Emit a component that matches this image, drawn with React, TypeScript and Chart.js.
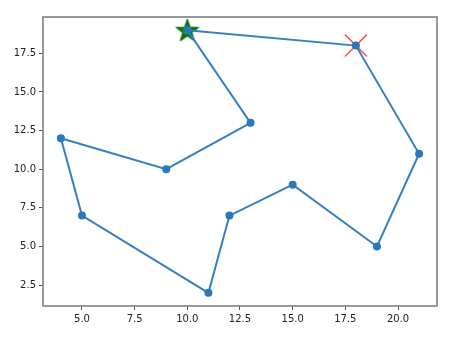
import React, { useEffect, useRef } from "react";
import { Chart, registerables } from "chart.js";

Chart.register(...registerables);

const tourX = [10, 13, 9, 4, 5, 11, 12, 15, 19, 21, 18, 10];
const tourY = [19, 13, 10, 12, 7, 2, 7, 9, 5, 11, 18, 19];
const startPoint = { x: 10, y: 19 };
const endPoint = { x: 18, y: 18 };
const xTicks = [5.0, 7.5, 10.0, 12.5, 15.0, 17.5, 20.0];
const yTicks = [2.5, 5.0, 7.5, 10.0, 12.5, 15.0, 17.5];
const xRange = [3.15, 21.85];
const yRange = [1.15, 19.85];

function makeStar(): HTMLCanvasElement {
  const c = document.createElement("canvas");
  const s = 26;
  c.width = s;
  c.height = s;
  const ctx = c.getContext("2d")!;
  const cx = s / 2, cy = s / 2 + 1;
  const R = 12, r = 4.8;
  ctx.beginPath();
  for (let i = 0; i < 10; i++) {
    const rad = i % 2 === 0 ? R : r;
    const a = -Math.PI / 2 + (i * Math.PI) / 5;
    const px = cx + rad * Math.cos(a);
    const py = cy + rad * Math.sin(a);
    if (i === 0) ctx.moveTo(px, py);
    else ctx.lineTo(px, py);
  }
  ctx.closePath();
  ctx.fillStyle = "#008000";
  ctx.fill();
  ctx.strokeStyle = "#006000";
  ctx.lineWidth = 1;
  ctx.stroke();
  return c;
}

const frame = {
  id: "frame",
  afterDraw(chart: any) {
    const { ctx, chartArea } = chart;
    ctx.save();
    ctx.strokeStyle = "#808080";
    ctx.lineWidth = 1.6;
    ctx.strokeRect(chartArea.left, chartArea.top, chartArea.right - chartArea.left, chartArea.bottom - chartArea.top);
    ctx.restore();
  },
};

export default function App() {
  const ref = useRef<HTMLCanvasElement>(null);
  useEffect(() => {
    const tour = tourX.map((x, i) => ({ x, y: tourY[i] }));
    const chart = new Chart(ref.current!, {
      type: "scatter",
      data: {
        datasets: [
          {
            data: tour,
            showLine: true,
            borderColor: "#3580c4",
            backgroundColor: "#2a78b8",
            borderWidth: 2,
            pointRadius: 4,
            pointBorderWidth: 0,
            order: 0,
          },
          {
            data: [startPoint],
            pointStyle: makeStar() as any,
            pointRadius: 12,
            order: 1,
          },
          {
            data: [endPoint],
            pointStyle: "crossRot",
            pointRadius: 15.5,
            borderColor: "#ff5050",
            borderWidth: 1.5,
            order: 1,
          },
        ],
      },
      options: {
        animation: false,
        responsive: false,
        layout: { padding: { top: 14, right: 22, left: 0, bottom: 0 } },
        plugins: { legend: { display: false }, tooltip: { enabled: false } },
        scales: {
          x: {
            type: "linear",
            min: xRange[0],
            max: xRange[1],
            afterBuildTicks: (s: any) => {
              s.ticks = xTicks.map((v) => ({ value: v }));
            },
            afterFit: (s: any) => {
              s.height = 39;
            },
            ticks: {
              callback: (v: any) => Number(v).toFixed(1),
              color: "#222",
              font: { family: "DejaVu Sans", size: 10 },
              padding: 3,
              maxRotation: 0,
            },
            grid: { drawOnChartArea: false, tickLength: 4, color: "#555", tickWidth: 1 },
            border: { display: false },
          },
          y: {
            type: "linear",
            min: yRange[0],
            max: yRange[1],
            afterBuildTicks: (s: any) => {
              s.ticks = yTicks.map((v) => ({ value: v }));
            },
            afterFit: (s: any) => {
              s.width = 43;
            },
            ticks: {
              callback: (v: any) => Number(v).toFixed(1),
              color: "#222",
              font: { family: "DejaVu Sans", size: 10 },
              padding: 3,
            },
            grid: { drawOnChartArea: false, tickLength: 4, color: "#555", tickWidth: 1 },
            border: { display: false },
          },
        },
      },
      plugins: [frame],
    });
    return () => chart.destroy();
  }, []);
  return (
    <div style={{ position: "absolute", left: 0, top: 0, width: 459, height: 345, background: "#fff" }}>
      <canvas ref={ref} width={459} height={345} style={{ width: 459, height: 345 }} />
    </div>
  );
}
